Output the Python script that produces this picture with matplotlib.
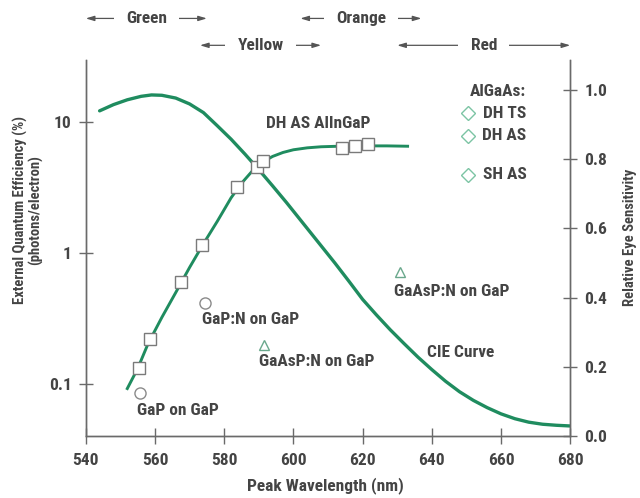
import matplotlib
matplotlib.use("Agg")
import matplotlib.pyplot as plt
import matplotlib.transforms as mtransforms

plt.rcParams['font.family'] = ['Roboto Condensed', 'Archivo Narrow', 'Sofia Sans Condensed', 'DejaVu Sans']
plt.rcParams['font.weight'] = 'bold'

TXT = '#444444'
AX = '#6a6a6a'
GREEN = '#1f8c5f'
FS = 12.5

# CIE eye sensitivity curve (right axis)
cie_wl = [544, 548, 552, 556, 559, 562, 566, 570, 574, 578, 582, 586, 590, 594,
          598, 600, 604, 608, 612, 616, 620, 624, 628, 632, 636, 640, 644, 648,
          652, 656, 660, 664, 668, 672, 676, 680]
cie_val = [0.94, 0.958, 0.972, 0.982, 0.986, 0.985, 0.977, 0.96, 0.935, 0.897,
           0.858, 0.815, 0.77, 0.723, 0.675, 0.65, 0.60, 0.55, 0.50, 0.448,
           0.395, 0.35, 0.307, 0.267, 0.228, 0.192, 0.158, 0.128, 0.103, 0.082,
           0.064, 0.05, 0.04, 0.034, 0.031, 0.029]

# DH AS AlInGaP efficiency curve and points (left axis)
eff_wl = [552, 555, 558, 562, 566, 570, 574, 578, 582, 585, 588, 591, 594, 597,
          600, 604, 608, 613, 620, 627, 633]
eff_val = [0.093, 0.132, 0.204, 0.324, 0.50, 0.776, 1.175, 1.74, 2.63, 3.39,
           4.17, 4.9, 5.43, 5.82, 6.1, 6.31, 6.43, 6.49, 6.53, 6.53, 6.49]
sq_wl = [555.4, 558.6, 567.6, 573.5, 583.8, 589.6, 591.3, 614.1, 617.9, 621.5]
sq_val = [0.134, 0.223, 0.60, 1.16, 3.2, 4.5, 4.97, 6.27, 6.56, 6.7]

# other technologies
circ_wl = [555.7, 574.4]
circ_val = [0.086, 0.417]
tri_wl = [591.5, 630.7]
tri_val = [0.20, 0.72]

# colour bands along the top
bands = ['Green', 'Yellow', 'Orange', 'Red']
band_start = [540, 573, 602, 630]
band_end = [575, 608, 637, 680]
band_row = [0.963, 0.909, 0.963, 0.909]

algaas_keys = ['DH TS', 'DH AS', 'SH AS']
algaas_y = [11.6, 7.8, 3.94]

fig = plt.figure(figsize=(6.4, 4.98), dpi=100)
ax = fig.add_axes([0.134, 0.1245, 0.757, 0.755])
ax2 = ax.twinx()

ax.set_yscale('log')
ax.set_xlim(540, 680)
ax.set_ylim(0.0405, 29.4)
ax2.set_ylim(0, 1.087)

ax2.plot(cie_wl, cie_val, color=GREEN, lw=2.4, solid_capstyle='round', zorder=2)
ax.plot(eff_wl, eff_val, color=GREEN, lw=2.1, zorder=2)
ax.plot(sq_wl, sq_val, 's', ms=8, mfc='white', mec='#7a7a7a', mew=1.0, zorder=3)
ax.plot(circ_wl, circ_val, 'o', ms=8, mfc='none', mec='#8a8a8a', mew=1.0, zorder=3)
ax.plot(tri_wl, tri_val, '^', ms=7, mfc='none', mec='#6aa88c', mew=1.0, zorder=3)
ax.set_zorder(ax2.get_zorder() + 1)
ax.patch.set_visible(False)

# AlGaAs key
ax.text(667.3, 16.9, 'AlGaAs:', ha='right', va='center', fontsize=FS, color=TXT)
for k, y in zip(algaas_keys, algaas_y):
    ax.plot([650.6], [y], 'D', ms=7.5, mfc='none', mec='#7cc4a4', mew=1.0)
    ax.text(667.3, y, k, ha='right', va='center', fontsize=FS, color=TXT)

labels = [('DH AS AlInGaP', 607.3, 9.75, 'center'),
          ('GaP on GaP', 554.7, 0.0638, 'left'),
          ('GaP:N on GaP', 573.5, 0.312, 'left'),
          ('GaAsP:N on GaP', 590.2, 0.150, 'left'),
          ('GaAsP:N on GaP', 629.2, 0.51, 'left'),
          ('CIE Curve', 638.7, 0.176, 'left')]
for s, x, y, ha in labels:
    ax.text(x, y, s, ha=ha, va='center', fontsize=FS, color=TXT)

# band arrows
tr = mtransforms.blended_transform_factory(ax.transData, fig.transFigure)
for name, a, b, r in zip(bands, band_start, band_end, band_row):
    ax.annotate('', xy=(a, r), xytext=(b, r), xycoords=tr, textcoords=tr,
                arrowprops=dict(arrowstyle='<|-|>,head_length=0.5,head_width=0.15',
                                color='#555555', lw=0.9, shrinkA=0, shrinkB=0),
                annotation_clip=False)
    ax.text((a + b) / 2, r, name, transform=tr, ha='center', va='center',
            fontsize=FS, color=TXT,
            bbox=dict(boxstyle='square,pad=0.7', fc='white', ec='none'))

ax.set_xticks([540, 560, 580, 600, 620, 640, 660, 680])
ax.set_yticks([0.1, 1, 10])
ax.set_yticklabels(['0.1', '1', '10'])
ax.yaxis.set_minor_locator(matplotlib.ticker.NullLocator())
ax2.set_yticks([0.0, 0.2, 0.4, 0.6, 0.8, 1.0])
ax2.set_yticklabels(['0.0', '0.2', '0.4', '0.6', '0.8', '1.0'])

for a in (ax, ax2):
    a.spines['top'].set_visible(False)
    for sp in a.spines.values():
        sp.set_color(AX)
        sp.set_linewidth(1.0)
    a.tick_params(direction='inout', length=10, width=1.0, color=AX,
                  labelcolor=TXT, labelsize=FS, pad=5)
ax.tick_params(axis='x', length=11, pad=7)

fig.text(0.325 / 0.64, 12 / 498, 'Peak Wavelength (nm)', ha='center', va='center',
         fontsize=FS, color=TXT)
fig.text(28 / 640, 1 - 210 / 498,
         'External Quantum Efficiency (%)\n(photons/electron)',
         rotation=90, ha='center', va='center', multialignment='center',
         fontsize=10.5, color=TXT, linespacing=1.05)
fig.text(630 / 640, 1 - 237 / 498, 'Relative Eye Sensitivity', rotation=90,
         ha='center', va='center', fontsize=10.5, color=TXT)

fig.savefig('out.png', dpi=100, facecolor='white')
